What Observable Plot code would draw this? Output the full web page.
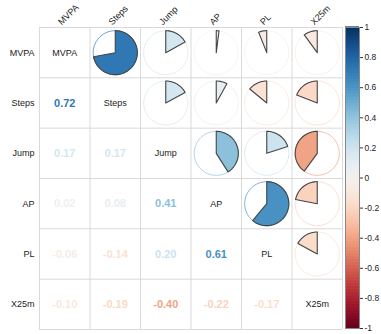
<!DOCTYPE html>
<html>
<head>
<meta charset="utf-8">
<script src="https://cdn.jsdelivr.net/npm/d3@7"></script>
<script src="https://cdn.jsdelivr.net/npm/@observablehq/plot@0.6"></script>
<style>
  html, body { margin: 0; padding: 0; background: #fff; }
  #chart { position: relative; width: 381px; height: 334px; overflow: hidden; font-family: "Liberation Sans", Arial, sans-serif; }
  #chart svg { position: absolute; left: 0; top: 0; background: transparent; }
</style>
</head>
<body>
<div id="chart"></div>
<script>
// Variables (rows / columns of the correlation matrix)
const variables = ["MVPA", "Steps", "Jump", "AP", "PL", "X25m"];
// Lower-triangle correlations, one array per row (against earlier variables)
const corSteps = [0.72];
const corJump = [0.17, 0.17];
const corAP = [0.02, 0.08, 0.41];
const corPL = [-0.06, -0.14, 0.20, 0.61];
const corX25m = [-0.10, -0.19, -0.40, -0.22, -0.17];
// Colour bar ticks
const barTicks = [1, 0.8, 0.6, 0.4, 0.2, 0, -0.2, -0.4, -0.6, -0.8, -1];
const barTickLabels = ["1", "0.8", "0.6", "0.4", "0.2", "0", "-0.2", "-0.4", "-0.6", "-0.8", "-1"];

const lower = [[], corSteps, corJump, corAP, corPL, corX25m];
const n = variables.length;

// Build cell tables
const numbers = [];   // lower triangle (row i, col j)
const pies = [];      // upper triangle (row j, col i)
for (let i = 1; i < n; i++) {
  lower[i].forEach((v, j) => {
    numbers.push({row: i, col: j, v, label: v.toFixed(2)});
    pies.push({row: j, col: i, v, key: `${j}-${i}`});
  });
}
const diag = variables.map((name, k) => ({row: k, col: k, name}));

const R = 0.437; // pie radius as share of a cell
const SEG = 90;
const circlePts = [];
const wedgePts = [];
for (const p of pies) {
  for (let s = 0; s <= SEG; s++) {
    const t = (s / SEG) * 2 * Math.PI;
    circlePts.push({key: p.key, v: p.v, x: p.col + R * Math.sin(t), y: p.row - R * Math.cos(t)});
  }
  const total = p.v * 2 * Math.PI;
  const steps = Math.max(2, Math.ceil(Math.abs(p.v) * SEG));
  wedgePts.push({key: p.key, v: p.v, x: p.col, y: p.row});
  for (let s = 0; s <= steps; s++) {
    const t = (s / steps) * total;
    wedgePts.push({key: p.key, v: p.v, x: p.col + R * Math.sin(t), y: p.row - R * Math.cos(t)});
  }
  wedgePts.push({key: p.key, v: p.v, x: p.col, y: p.row});
}

const gridPos = d3.range(n + 1).map(k => k - 0.5);
const colorScale = {type: "linear", domain: [-1, 1], scheme: "rdbu"};
const font = "Liberation Sans, Arial, sans-serif";

const main = Plot.plot({
  width: 381,
  height: 334,
  marginLeft: 39,
  marginRight: 39,
  marginTop: 27,
  marginBottom: 5,
  style: {fontFamily: font, background: "transparent", overflow: "visible"},
  x: {domain: [-0.5, n - 0.5], axis: null},
  y: {domain: [-0.5, n - 0.5], reverse: true, axis: null},
  color: colorScale,
  marks: [
    Plot.ruleX(gridPos, {x: d => d, y1: -0.5, y2: n - 0.5, stroke: "#d9d9d9", strokeWidth: 1}),
    Plot.ruleY(gridPos, {y: d => d, x1: -0.5, x2: n - 0.5, stroke: "#d9d9d9", strokeWidth: 1}),
    Plot.line(circlePts, {x: "x", y: "y", z: "key", stroke: "v", strokeWidth: 1, strokeOpacity: 0.7}),
    Plot.line(wedgePts, {x: "x", y: "y", z: "key", fill: "v", stroke: "#444", strokeWidth: 1.1, strokeLinejoin: "round"}),
    Plot.text(numbers, {x: "col", y: "row", text: "label", fill: "v", fontSize: 11, fontWeight: "bold"}),
    Plot.text(diag, {x: "col", y: "row", text: "name", fill: "#222", fontSize: 9}),
    Plot.text(diag, {x: -0.5, y: "row", text: "name", fill: "#222", fontSize: 9, textAnchor: "end", dx: -5}),
    Plot.text(diag, {x: "col", y: -0.5, text: "name", fill: "#222", fontSize: 9, textAnchor: "start", lineAnchor: "bottom", rotate: -45, dx: -3, dy: -2})
  ]
});

// Colour bar
const barSteps = d3.range(200).map(k => -1 + (2 * k) / 200);
const bar = Plot.plot({
  width: 381,
  height: 334,
  marginLeft: 345,
  marginRight: 22,
  marginTop: 27,
  marginBottom: 6,
  style: {fontFamily: font, background: "transparent", overflow: "visible"},
  x: {domain: [0, 1], axis: null},
  y: {domain: [-1, 1], axis: null},
  color: colorScale,
  marks: [
    Plot.rect(barSteps, {x1: 0, x2: 1, y1: d => d, y2: d => d + 2 / 200 + 0.004, fill: d => d + 1 / 200}),
    Plot.frame({stroke: "#888", strokeWidth: 1}),
    Plot.axisY({anchor: "right", ticks: barTicks, tickFormat: d => barTickLabels[barTicks.indexOf(d)], tickSize: 3, tickPadding: 2, fontSize: 8.5, stroke: "#333", color: "#222"})
  ]
});

const chart = document.getElementById("chart");
chart.appendChild(main);
chart.appendChild(bar);
</script>
</body>
</html>
